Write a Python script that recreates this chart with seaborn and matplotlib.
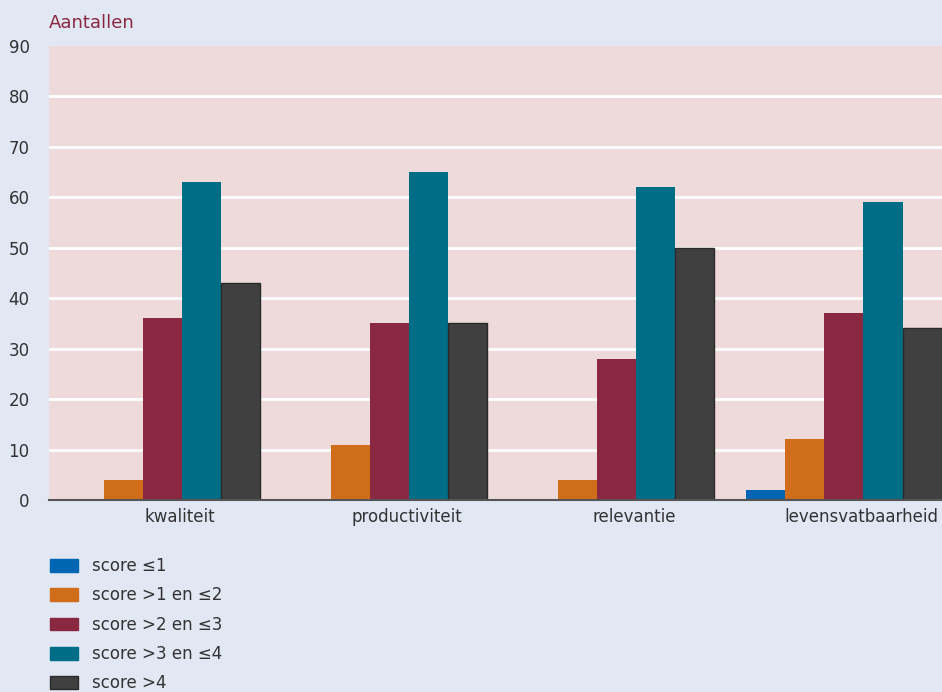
import pandas as pd
import matplotlib.pyplot as plt
import seaborn as sns
from matplotlib.patches import Patch
import matplotlib.transforms as mtransforms

# Data
categories = ['kwaliteit', 'productiviteit', 'relevantie', 'levensvatbaarheid']
score_groups = ['score ≤1', 'score >1 en ≤2', 'score >2 en ≤3', 'score >3 en ≤4', 'score >4']
score_le1 = [0, 0, 0, 2]
score_1_2 = [4, 11, 4, 12]
score_2_3 = [36, 35, 28, 37]
score_3_4 = [63, 65, 62, 59]
score_gt4 = [43, 35, 50, 34]
y_ticks = [0, 10, 20, 30, 40, 50, 60, 70, 80, 90]

colors = ['#0065b2', '#cf6d1a', '#8a2841', '#006d87', '#404040']

rows = []
for grp, vals in zip(score_groups, [score_le1, score_1_2, score_2_3, score_3_4, score_gt4]):
    for cat, v in zip(categories, vals):
        rows.append({'categorie': cat, 'groep': grp, 'aantal': v})
df = pd.DataFrame(rows)

sns.set_style('white')
plt.rcParams['font.family'] = ['DejaVu Sans']
text_col = '#333333'

fig = plt.figure(figsize=(9.42, 6.92), dpi=100, facecolor='#e1e7f3')
ax = fig.add_axes([49 / 942, (692 - 500) / 692, (957.5 - 49) / 942, 454 / 692])
ax.set_facecolor('#eedadb')

sns.barplot(data=df, x='categorie', y='aantal', hue='groep', hue_order=score_groups,
            palette=colors, width=0.86, saturation=1, linewidth=0, ax=ax, legend=False)

# dark bars get a darker outline
for bar in ax.containers[4]:
    bar.set_edgecolor('#2a2a2a')
    bar.set_linewidth(1)

ax.set_xlim(-0.5, 3.5)
ax.set_ylim(0, 90)
ax.set_yticks(y_ticks)
ax.yaxis.grid(True, color='white', linewidth=2)
ax.yaxis.get_gridlines()[-1].set_visible(False)  # no line along the top edge
ax.set_axisbelow(True)
for s in ['top', 'right', 'left']:
    ax.spines[s].set_visible(False)
ax.spines['bottom'].set_color('#555555')
ax.spines['bottom'].set_linewidth(1.5)
ax.tick_params(axis='both', length=0, labelsize=12, colors=text_col)
ax.tick_params(axis='y', pad=14)
ax.tick_params(axis='x', pad=6)
ax.set_xlabel('')
ax.set_ylabel('')

# category labels sit a little to the right of the group centres
offset = mtransforms.ScaledTranslation(17 / 100, 0, fig.dpi_scale_trans)
for lbl in ax.get_xticklabels():
    lbl.set_transform(lbl.get_transform() + offset)

fig.text(49 / 942, 1 - 23 / 692, 'Aantallen', color='#8a2841', fontsize=13, va='center', ha='left')

handles = [Patch(facecolor=c, edgecolor=('#2a2a2a' if i == 4 else c)) for i, c in enumerate(colors)]
fig.legend(handles, score_groups, loc='upper left', bbox_to_anchor=(35 / 942, 1 - 542 / 692),
           frameon=False, fontsize=12, handlelength=1.7, handleheight=0.8,
           labelspacing=0.68, handletextpad=0.8, labelcolor=text_col)

plt.savefig('out.png', dpi=100, facecolor=fig.get_facecolor())
